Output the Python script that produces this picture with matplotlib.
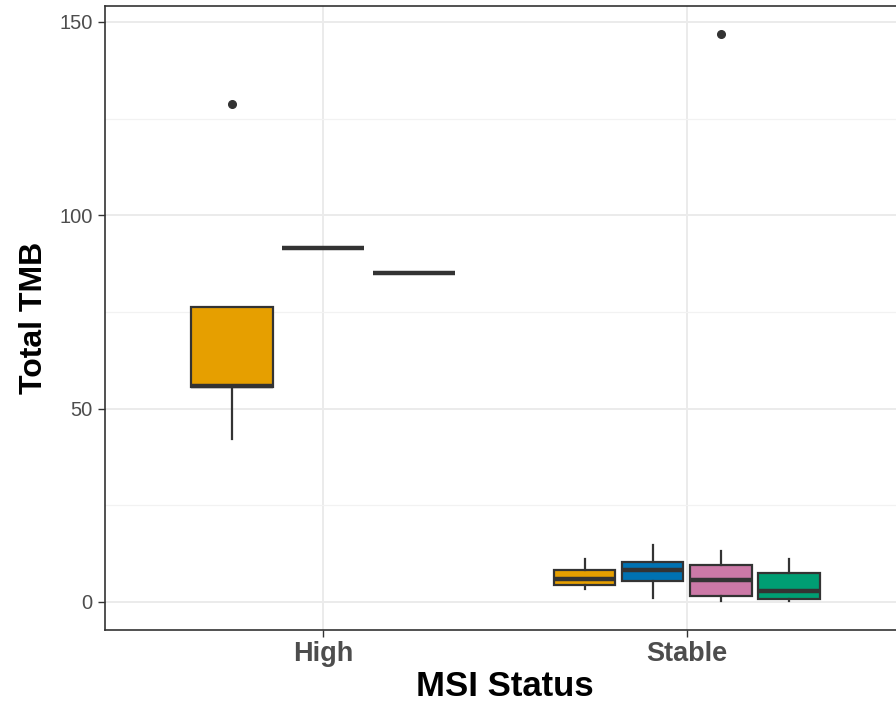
import matplotlib.pyplot as plt
import numpy as np

plt.rcParams['font.family'] = ['Liberation Sans', 'DejaVu Sans']

# MSI status categories and the subgroup of each box
categories = ['High', 'Stable']
groups = ['g1', 'g2', 'g3', 'g4']
colors = {'g1': '#E69F00', 'g2': '#0072B2', 'g3': '#CC79A7', 'g4': '#009E73'}

# box summaries per category: group, lower whisker, Q1, median, Q3, upper whisker, outliers
high_groups = ['g1', 'g2', 'g3']
high_whislo = [42.1, 91.5, 85.1]
high_q1 = [55.7, 91.5, 85.1]
high_med = [55.9, 91.5, 85.1]
high_q3 = [76.4, 91.5, 85.1]
high_whishi = [76.4, 91.5, 85.1]
high_fliers = [[128.8], [], []]

stable_groups = ['g1', 'g2', 'g3', 'g4']
stable_whislo = [3.4, 1.0, 0.3, 0.2]
stable_q1 = [4.3, 5.5, 1.5, 0.7]
stable_med = [5.9, 8.2, 5.7, 2.8]
stable_q3 = [8.3, 10.3, 9.6, 7.4]
stable_whishi = [11.1, 14.7, 13.3, 11.1]
stable_fliers = [[], [], [146.9], []]

fig = plt.figure(figsize=(8.96, 7.03), dpi=100)
ax = fig.add_axes([0.1172, 0.1038, 0.8929, 0.8876])

dodge_total = 0.75
edge = '#333333'


def draw_category(xc, grp, wlo, q1, med, q3, whi, fl):
    n = len(grp)
    slot = dodge_total / n
    for i, g in enumerate(grp):
        pos = xc - dodge_total / 2 + slot * (i + 0.5)
        stats = [dict(whislo=wlo[i], q1=q1[i], med=med[i], q3=q3[i],
                      whishi=whi[i], fliers=fl[i])]
        ax.bxp(stats, positions=[pos], widths=slot * 0.9, patch_artist=True,
               showcaps=False,
               boxprops=dict(facecolor=colors[g], edgecolor=edge, linewidth=1.6),
               medianprops=dict(color=edge, linewidth=3.2, solid_capstyle='butt'),
               whiskerprops=dict(color=edge, linewidth=1.6),
               flierprops=dict(marker='o', markerfacecolor=edge, markeredgecolor=edge,
                               markersize=5.5),
               manage_ticks=False, zorder=3)


draw_category(1, high_groups, high_whislo, high_q1, high_med, high_q3,
              high_whishi, high_fliers)
draw_category(2, stable_groups, stable_whislo, stable_q1, stable_med, stable_q3,
              stable_whishi, stable_fliers)

ax.set_xlim(0.4, 2.6)
ax.set_ylim(-7.25, 154.1)
ax.set_xticks([1, 2])
ax.set_xticklabels(categories)
ax.set_yticks([0, 50, 100, 150])
ax.set_yticks([25, 75, 125], minor=True)

ax.grid(True, which='major', color='#EBEBEB', linewidth=1.4, zorder=0)
ax.grid(True, which='minor', axis='y', color='#F2F2F2', linewidth=0.9, zorder=0)
ax.set_axisbelow(True)

for s in ax.spines.values():
    s.set_color('#333333')
    s.set_linewidth(1.2)

ax.tick_params(axis='y', which='major', length=5, width=1, color='#333333',
               labelsize=14.5, labelcolor='#4D4D4D', pad=4)
ax.tick_params(axis='x', which='major', length=5, width=1, color='#333333',
               labelsize=19.5, labelcolor='#4D4D4D', pad=3)
ax.tick_params(which='minor', length=0)
for lab in ax.get_xticklabels():
    lab.set_fontweight('bold')

ax.set_xlabel('MSI Status', fontsize=25, fontweight='bold', labelpad=2)
ax.set_ylabel('Total TMB', fontsize=23, fontweight='bold', labelpad=7)

fig.savefig('out.png', dpi=100)
